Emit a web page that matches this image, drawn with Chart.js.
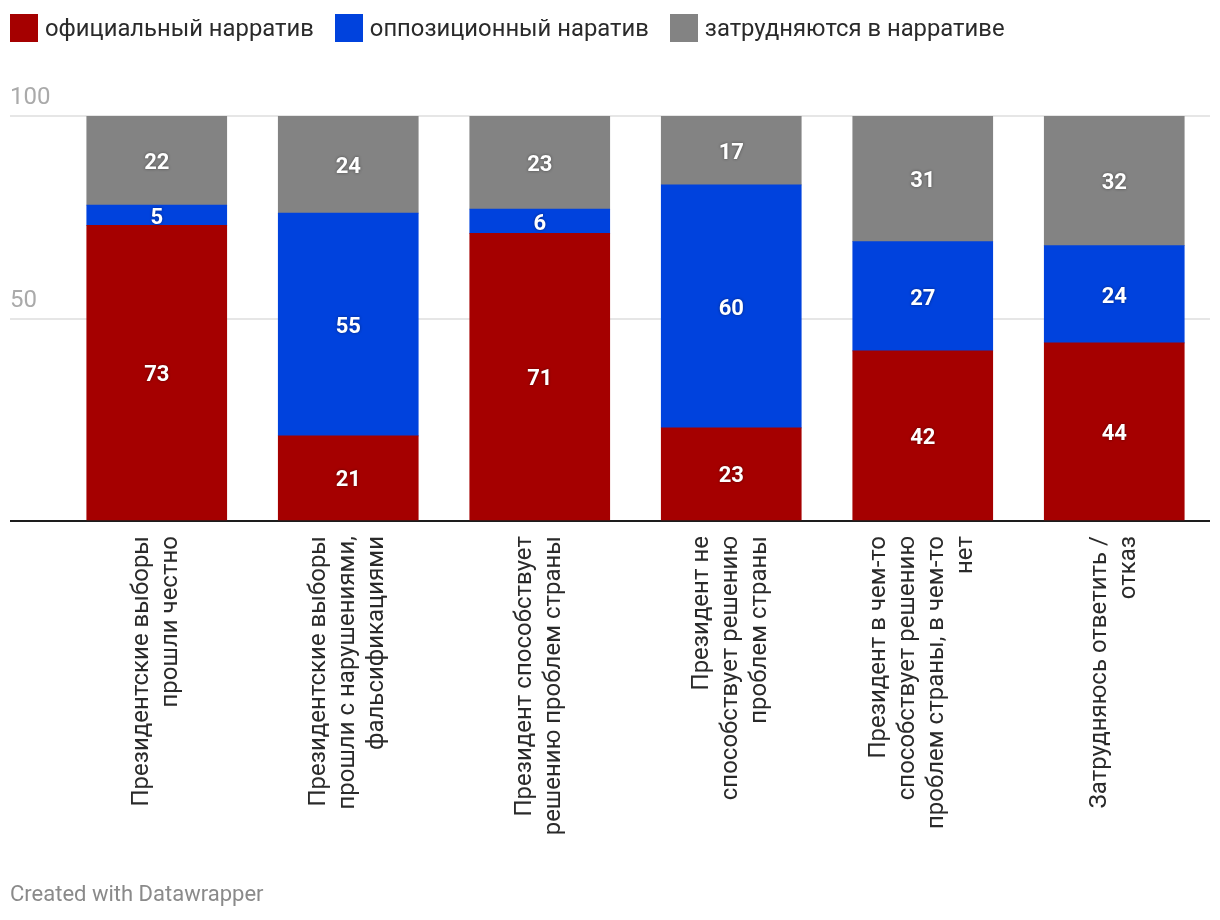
<!DOCTYPE html>
<html lang="ru">
<head>
<meta charset="utf-8">
<title>Нарративы</title>
<script src="https://cdn.jsdelivr.net/npm/chart.js@4"></script>
<style>
  html, body { margin: 0; padding: 0; background: #fff; }
  body { width: 1220px; height: 920px; position: relative; font-family: Roboto, sans-serif; overflow: hidden; }
  #chart { position: absolute; left: 0; top: 0; }
  .legend { position: absolute; left: 10px; top: 14px; display: flex; align-items: center; font-size: 23.8px; color: #2a2a2a; }
  .legend .item { display: flex; align-items: center; margin-right: 21px; }
  .legend .box { width: 28px; height: 28px; margin-right: 7px; }
  .footer { position: absolute; left: 10px; top: 881px; font-size: 22px; color: #8a8a8a; }
</style>
</head>
<body>
<canvas id="chart" width="1220" height="920"></canvas>
<div class="legend" id="legend"></div>
<div class="footer">Created with Datawrapper</div>
<script>
// категории (строки подписи)
const categories = [
    ['Президентские выборы', 'прошли честно'],
    ['Президентские выборы', 'прошли с нарушениями,', 'фальсификациями'],
    ['Президент способствует', 'решению проблем страны'],
    ['Президент не', 'способствует решению', 'проблем страны'],
    ['Президент в чем-то', 'способствует решению', 'проблем страны, в чем-то', 'нет'],
    ['Затрудняюсь ответить /', 'отказ']
];
const seriesNames = ['официальный нарратив', 'оппозиционный наратив', 'затрудняются в нарративе'];
const seriesColors = ['#a50000', '#0042dd', '#838383'];
const official = [73, 21, 71, 23, 42, 44];
const opposition = [5, 55, 6, 60, 27, 24];
const undecided = [22, 24, 23, 17, 31, 32];
const yTicks = [0, 50, 100];

// легенда
const legendEl = document.getElementById('legend');
seriesNames.forEach(function(name, i) {
    const item = document.createElement('div');
    item.className = 'item';
    item.innerHTML = '<span class="box" style="background:' + seriesColors[i] + '"></span><span>' + name + '</span>';
    legendEl.appendChild(item);
});

// подписи по центру столбца: пустые строки половинной высоты
const HALF_LINE = 14.5;
const maxLines = Math.max.apply(null, categories.map(function(c) { return c.length; }));
const axisLabels = categories.map(function(lines) {
    const out = [];
    for (let i = 0; i < maxLines - lines.length; i++) out.push('');
    lines.forEach(function(line, j) {
        if (j > 0) out.push('');
        out.push(line);
    });
    return out;
});

// значения внутри сегментов
const valueLabels = {
    id: 'valueLabels',
    afterDatasetsDraw(chart) {
        const ctx = chart.ctx;
        ctx.save();
        ctx.font = 'bold 22px Roboto';
        ctx.fillStyle = '#fff';
        ctx.textAlign = 'center';
        ctx.textBaseline = 'middle';
        ctx.shadowColor = 'rgba(0,0,0,0.45)';
        ctx.shadowBlur = 3;
        chart.data.datasets.forEach(function(ds, di) {
            chart.getDatasetMeta(di).data.forEach(function(bar, i) {
                ctx.fillText(ds.data[i], bar.x, (bar.y + bar.base) / 2 + 3);
            });
        });
        ctx.restore();
    }
};

Chart.defaults.font.family = 'Roboto';

const gridColor = function(c) { return c.tick && c.tick.value === 0 ? '#1d1d1d' : '#e6e6e6'; };

new Chart(document.getElementById('chart'), {
    type: 'bar',
    data: {
        labels: axisLabels,
        datasets: [
            { label: seriesNames[0], data: official, backgroundColor: seriesColors[0] },
            { label: seriesNames[1], data: opposition, backgroundColor: seriesColors[1] },
            { label: seriesNames[2], data: undecided, backgroundColor: seriesColors[2] }
        ]
    },
    options: {
        responsive: false,
        animation: false,
        devicePixelRatio: 1,
        layout: { padding: { top: 116, left: 10, right: 10, bottom: 69 } },
        datasets: { bar: { barThickness: 140 } },
        plugins: {
            legend: { display: false },
            tooltip: { enabled: false }
        },
        scales: {
            x: {
                stacked: true,
                grid: { display: false, drawTicks: false },
                border: { display: false },
                afterFit: function(scale) { scale.height = 330; },
                ticks: {
                    autoSkip: false,
                    minRotation: 90,
                    maxRotation: 90,
                    padding: 15,
                    labelOffset: -(maxLines - 1) * HALF_LINE,
                    color: '#2a2a2a',
                    font: { size: 24, lineHeight: HALF_LINE + 'px' }
                }
            },
            y: {
                stacked: true,
                min: 0,
                max: 100,
                afterFit: function(scale) { scale.width = 51; },
                afterBuildTicks: function(scale) {
                    scale.ticks = yTicks.map(function(v) { return { value: v }; });
                },
                border: { display: false },
                grid: {
                    color: gridColor,
                    tickColor: gridColor,
                    lineWidth: 2,
                    tickWidth: 2,
                    drawTicks: true,
                    tickLength: 51
                },
                ticks: {
                    crossAlign: 'far',
                    labelOffset: -18,
                    color: '#aaa',
                    font: { size: 24 },
                    callback: function(v) { return v === 0 ? '' : v; }
                }
            }
        }
    },
    plugins: [valueLabels]
});
</script>
</body>
</html>
